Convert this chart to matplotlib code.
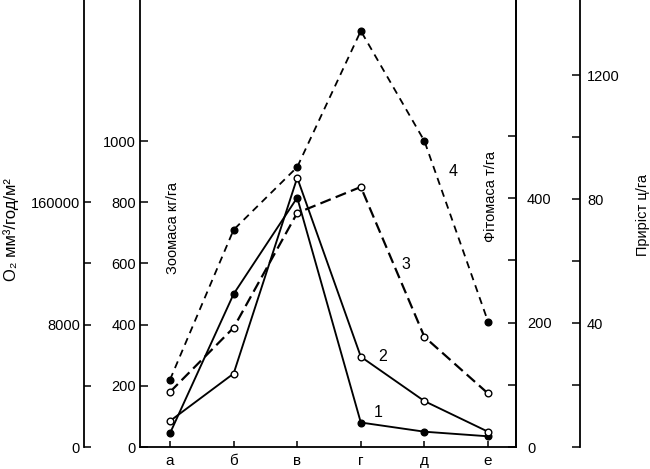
import matplotlib
matplotlib.use("Agg")
import matplotlib.pyplot as plt
from matplotlib.ticker import FixedLocator, FixedFormatter

plt.rcParams['font.family'] = ['Liberation Sans', 'DejaVu Sans']

# ---- data (in units of the "Зоомаса кг/га" axis) ----
categories = ['а', 'б', 'в', 'г', 'д', 'е']
curve1 = [45, 500, 815, 80, 50, 35]      # solid, filled circles
curve2 = [85, 240, 880, 295, 150, 50]    # solid, open circles
curve3 = [180, 390, 765, 850, 360, 175]  # long dashes, open circles
curve4 = [220, 710, 915, 1360, 1000, 410]  # short dashes, filled circles

zoo_ticks = [0, 200, 400, 600, 800, 1000]
zoo_labels = ['0', '200', '400', '600', '800', '1000']
o2_ticks = [0, 200, 400, 600, 800]
o2_labels = ['0', '', '8000', '', '160000']
phyto_ticks = [0, 100, 200, 300, 400, 500]
phyto_labels = ['0', '', '200', '', '400', '']
growth_ticks = [0, 20, 40, 60, 80, 100, 120]
growth_labels = ['', '', '40', '', '80', '', '1200']

W, H = 650, 469
fig = plt.figure(figsize=(W / 100, H / 100), dpi=100)
x_left, x_right, y_bottom = 140, 516, 447
ax = fig.add_axes([x_left / W, (H - y_bottom) / H, (x_right - x_left) / W, y_bottom / H])

xs = list(range(len(categories)))
ax.set_xlim(-0.472, 5.44)
zoo_max = 1461
ax.set_ylim(0, zoo_max)

lw = 1.35
ms = 4.8
ax.plot(xs, curve1, color='black', lw=lw, marker='o', ms=ms, mfc='black', mec='black', zorder=3)
ax.plot(xs, curve2, color='black', lw=lw, marker='o', ms=ms, mfc='white', mec='black', mew=1.0, zorder=3)
ax.plot(xs, curve3, color='black', lw=1.6, dashes=(5.0, 2.4), marker='o', ms=ms, mfc='white', mec='black', mew=1.0, zorder=3)
ax.plot(xs, curve4, color='black', lw=1.3, dashes=(4.0, 3.0), marker='o', ms=ms, mfc='black', mec='black', zorder=3)

for lab, xx, yy in [('1', 3.27, 114), ('2', 3.34, 297), ('3', 3.71, 598), ('4', 4.45, 902)]:
    ax.text(xx, yy, lab, ha='center', va='center', fontsize=11.5)

ax.spines['top'].set_visible(False)
for s in ['left', 'right', 'bottom']:
    ax.spines[s].set_linewidth(1.3)
ax.set_xticks(xs)
ax.set_xticklabels(categories, fontsize=11)
ax.tick_params(axis='x', direction='in', length=4, width=1.1, pad=5)
ax.yaxis.set_major_locator(FixedLocator(zoo_ticks))
ax.yaxis.set_major_formatter(FixedFormatter(zoo_labels))
ax.tick_params(axis='y', direction='in', length=6, width=1.1, pad=3, labelsize=10.5)

# Фітомаса axis (right spine of main axes)
axp = ax.twinx()
axp.set_ylim(0, 447 / 0.6225)
for s in ['left', 'top', 'bottom']:
    axp.spines[s].set_visible(False)
axp.spines['right'].set_linewidth(1.3)
axp.yaxis.set_major_locator(FixedLocator(phyto_ticks))
axp.yaxis.set_major_formatter(FixedFormatter(phyto_labels))
axp.tick_params(axis='y', direction='in', length=6, width=1.1, pad=8, labelsize=10.5)

# Приріст axis
axg = ax.twinx()
axg.set_ylim(0, 447 / 3.1)
axg.spines['right'].set_position(('axes', (580 - x_left) / (x_right - x_left)))
for s in ['left', 'top', 'bottom']:
    axg.spines[s].set_visible(False)
axg.spines['right'].set_linewidth(1.3)
axg.yaxis.set_major_locator(FixedLocator(growth_ticks))
axg.yaxis.set_major_formatter(FixedFormatter(growth_labels))
axg.tick_params(axis='y', direction='in', length=6, width=1.1, pad=5, labelsize=10.5)

# O2 axis
axo = ax.twinx()
axo.set_ylim(0, zoo_max)
axo.yaxis.set_ticks_position('left')
axo.spines['left'].set_position(('axes', (84 - x_left) / (x_right - x_left)))
axo.spines['left'].set_visible(True)
for s in ['right', 'top', 'bottom']:
    axo.spines[s].set_visible(False)
axo.spines['left'].set_linewidth(1.3)
axo.yaxis.set_major_locator(FixedLocator(o2_ticks))
axo.yaxis.set_major_formatter(FixedFormatter(o2_labels))
axo.tick_params(axis='y', direction='in', length=5, width=1.1, pad=3, labelsize=10.5)

# axis titles
def ftext(px, py, s, fs=10.5):
    fig.text(px / W, 1 - py / H, s, rotation=90, ha='center', va='center', fontsize=fs)

ftext(11, 230, 'O₂ мм³/год/м²', fs=12)
ftext(173, 228, 'Зоомаса кг/га')
ftext(491, 196, 'Фітомаса т/га')
ftext(643, 215, 'Приріст ц/га')

fig.savefig('out.png', dpi=100)
